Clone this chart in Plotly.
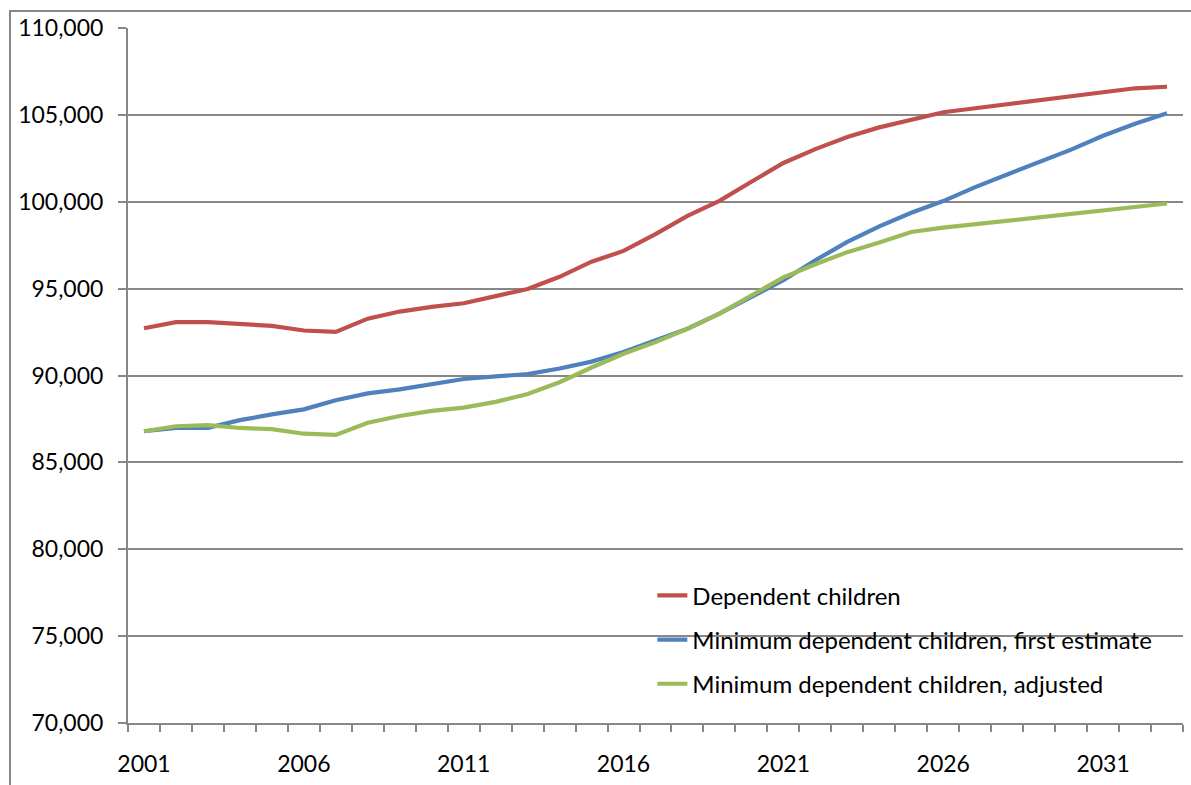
import plotly.graph_objects as go

years = list(range(2001, 2034))

dependent_children = [
    92720, 93070, 93070, 92980, 92860, 92590, 92510, 93270, 93680, 93950,
    94160, 94570, 94980, 95680, 96550, 97170, 98140, 99190, 100050, 101150,
    102230, 103030, 103730, 104280, 104710, 105150, 105380, 105610, 105860,
    106090, 106320, 106530, 106620,
]
min_first_estimate = [
    86790, 86980, 86990, 87430, 87760, 88050, 88580, 88970, 89200, 89510,
    89800, 89950, 90080, 90400, 90800, 91350, 92020, 92690, 93560, 94520,
    95480, 96630, 97690, 98580, 99370, 100040, 100840, 101570, 102270,
    103000, 103800, 104490, 105100,
]
min_adjusted = [
    86790, 87080, 87140, 86980, 86910, 86650, 86580, 87280, 87670, 87960,
    88150, 88480, 88940, 89610, 90460, 91250, 91920, 92690, 93560, 94600,
    95650, 96400, 97100, 97650, 98260, 98510, 98700, 98890, 99080, 99310,
    99520, 99700, 99900,
]

series_names = [
    "Dependent children",
    "Minimum dependent children, first estimate",
    "Minimum dependent children, adjusted",
]
series_colors = ["#C0504D", "#4F81BD", "#9BBB59"]
x_tick_labels = [2001, 2006, 2011, 2016, 2021, 2026, 2031]

FONT = "Lato, 'Liberation Sans', sans-serif"
GRID = "#878787"

fig = go.Figure()
for name, vals, col in zip(series_names,
                           [dependent_children, min_first_estimate, min_adjusted],
                           series_colors):
    fig.add_trace(go.Scatter(
        x=years, y=vals, name=name, mode="lines",
        line=dict(color=col, width=4.2), legendgroup=name,
    ))

fig.update_layout(
    width=1191, height=785,
    margin=dict(l=128, r=8, t=28, b=62),
    paper_bgcolor="white", plot_bgcolor="white",
    font=dict(family=FONT, size=23, color="black"),
    showlegend=True,
    legend=dict(
        x=0.497, y=0.2155, xanchor="left", yanchor="top",
        bgcolor="rgba(0,0,0,0)", font=dict(size=24, family=FONT),
        tracegroupgap=10, itemwidth=30,
    ),
)

fig.update_xaxes(
    range=[2000.5, 2033.5],
    tickmode="array", tickvals=x_tick_labels,
    ticktext=[str(v) for v in x_tick_labels],
    ticks="", showgrid=False, zeroline=False,
    showline=True, linecolor=GRID, linewidth=2,
    ticklabelstandoff=19,
    minor=dict(
        tickmode="array",
        tickvals=[y - 0.5 for y in years] + [years[-1] + 0.5],
        ticks="outside", ticklen=7, tickwidth=2, tickcolor=GRID, showgrid=False,
    ),
)
fig.update_yaxes(
    range=[70000, 110000], dtick=5000, tickformat=",",
    ticks="outside", ticklen=8, tickwidth=2, tickcolor=GRID,
    showgrid=True, gridcolor=GRID, gridwidth=2, zeroline=False,
    showline=True, linecolor=GRID, linewidth=2,
    ticklabelstandoff=10,
)

# outer chart-area border (partly cropped like the reference)
fig.add_shape(
    type="rect", xref="paper", yref="paper",
    x0=(10 - 128) / 1055, x1=(1200 - 128) / 1055,
    y0=(723 - 800) / 695, y1=(723 - 11) / 695,
    line=dict(color=GRID, width=2), fillcolor="rgba(0,0,0,0)", layer="below",
)

fig.write_html("out.html")
